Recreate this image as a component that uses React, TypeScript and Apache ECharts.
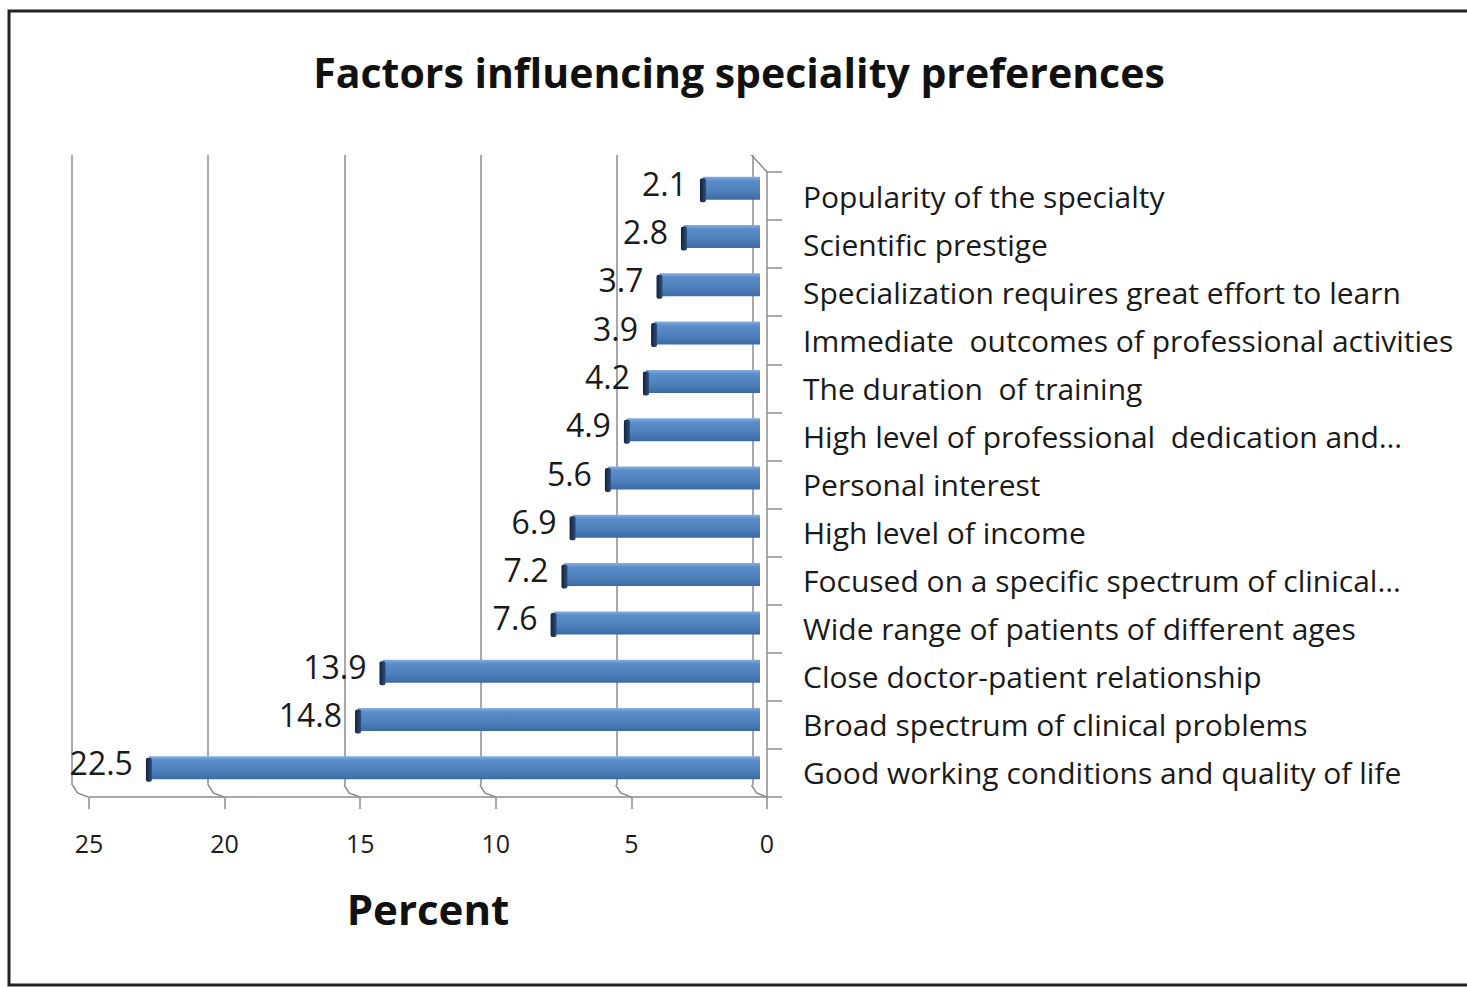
import React, { useEffect, useRef } from "react";
import * as echarts from "echarts";

const categories = [
  "Popularity of the specialty",
  "Scientific prestige",
  "Specialization requires great effort to learn",
  "Immediate  outcomes of professional activities",
  "The duration  of training",
  "High level of professional  dedication and…",
  "Personal interest",
  "High level of income",
  "Focused on a specific spectrum of clinical…",
  "Wide range of patients of different ages",
  "Close doctor-patient relationship",
  "Broad spectrum of clinical problems",
  "Good working conditions and quality of life",
];
const values = [2.1, 2.8, 3.7, 3.9, 4.2, 4.9, 5.6, 6.9, 7.2, 7.6, 13.9, 14.8, 22.5];
const tickValues = [0, 5, 10, 15, 20, 25];

const FONT = "'Open Sans', 'Noto Sans', sans-serif";
const GRID_COLOR = "#8c8c8c";

export default function App() {
  const ref = useRef<HTMLDivElement>(null);
  useEffect(() => {
    if (!ref.current) return;
    const chart = echarts.init(ref.current, undefined, { renderer: "svg" });
    const valueAxisBase = {
      type: "value" as const,
      inverse: true,
      min: 0,
      max: 25,
      interval: 5,
    };
    const option: any = {
      animation: false,
      backgroundColor: "#ffffff",
      textStyle: { fontFamily: FONT },
      grid: [
        { left: 72, right: 714, top: 155, bottom: 202 },
        { left: 81, right: 707, top: 164, bottom: 195 },
        { left: 89, right: 700, top: 172, bottom: 190 },
      ],
      xAxis: [
        {
          ...valueAxisBase,
          gridIndex: 0,
          axisLine: { show: false },
          axisTick: { show: false },
          axisLabel: { show: false },
          splitLine: { show: true, lineStyle: { color: GRID_COLOR, width: 1.5 } },
        },
        {
          ...valueAxisBase,
          gridIndex: 1,
          show: false,
          splitLine: { show: false },
        },
        {
          ...valueAxisBase,
          gridIndex: 2,
          axisLine: { show: true, lineStyle: { color: GRID_COLOR, width: 1.5 } },
          axisTick: { show: true, length: 12, lineStyle: { color: GRID_COLOR, width: 1.5 } },
          axisLabel: { show: true, margin: 33, fontSize: 25, color: "#1a1a1a", fontFamily: FONT },
          splitLine: { show: false },
          name: "Percent",
          nameLocation: "middle",
          nameGap: 90,
          nameTextStyle: { fontSize: 42, fontWeight: "bold", color: "#111", fontFamily: FONT },
        },
      ],
      yAxis: [
        { type: "category", gridIndex: 0, data: categories, inverse: true, show: false },
        { type: "category", gridIndex: 1, data: categories, inverse: true, show: false },
        {
          type: "category",
          gridIndex: 2,
          data: categories,
          inverse: true,
          position: "right",
          axisLine: { show: true, lineStyle: { color: GRID_COLOR, width: 1.5 } },
          axisTick: { show: true, length: 15, interval: 0, lineStyle: { color: GRID_COLOR, width: 1.5 } },
          axisLabel: { show: true, interval: 0, margin: 36, fontSize: 30, color: "#1a1a1a", fontFamily: FONT },
        },
      ],
      series: [
        {
          type: "custom",
          name: "depth",
          xAxisIndex: 1,
          yAxisIndex: 1,
          z: 1,
          silent: true,
          data: tickValues.map((v) => [v]),
          renderItem: (params: any, api: any) => {
            const v = api.value(0);
            const cs = params.coordSys;
            const xm = api.coord([v, 0])[0];
            const bottom = cs.y + cs.height;
            const xb = xm - 8.5;
            const xf = xm + 7;
            const children: any[] = [
              {
                type: "polyline",
                shape: {
                  points: [
                    [xb, bottom - 7],
                    [xb + 5, bottom + 1],
                    [xf, bottom + 5],
                  ],
                },
                style: { stroke: GRID_COLOR, lineWidth: 1.5, fill: null },
              },
            ];
            if (v === 0) {
              children.push({
                type: "line",
                shape: { x1: xb, y1: cs.y - 9, x2: xf, y2: cs.y + 8 },
                style: { stroke: GRID_COLOR, lineWidth: 1.5 },
              });
            }
            return { type: "group", children };
          },
        },
        {
          type: "bar",
          name: "Percent",
          xAxisIndex: 1,
          yAxisIndex: 1,
          data: values,
          barWidth: 23,
          z: 3,
          itemStyle: {
            color: new echarts.graphic.LinearGradient(0, 0, 0, 1, [
              { offset: 0, color: "#86aee0" },
              { offset: 0.18, color: "#5b8cca" },
              { offset: 0.6, color: "#4f81bd" },
              { offset: 1, color: "#3c6aa3" },
            ]),
          },
          label: {
            show: true,
            position: "left",
            distance: 16,
            offset: [0, -5],
            fontSize: 32,
            color: "#1a1a1a",
            fontFamily: FONT,
          },
        },
        {
          type: "custom",
          name: "caps",
          xAxisIndex: 1,
          yAxisIndex: 1,
          z: 4,
          silent: true,
          data: values.map((v, i) => [v, i]),
          renderItem: (params: any, api: any) => {
            const p = api.coord([api.value(0), api.value(1)]);
            return {
              type: "rect",
              shape: { x: p[0] - 3, y: p[1] - 10, width: 6, height: 24, r: 2 },
              style: {
                fill: new echarts.graphic.LinearGradient(0, 0, 1, 0, [
                  { offset: 0, color: "#13233d" },
                  { offset: 1, color: "#2e4d7a" },
                ]),
              },
            };
          },
        },
      ],
      graphic: [
        {
          type: "rect",
          shape: { x: 9, y: 11, width: 1475, height: 974 },
          style: { fill: null, stroke: "#222", lineWidth: 3 },
          z: 100,
          silent: true,
        },
        {
          type: "text",
          x: 739,
          y: 72,
          style: {
            text: "Factors influencing speciality preferences",
            fontSize: 41,
            fontWeight: "bold",
            fontFamily: FONT,
            fill: "#111",
            align: "center",
            verticalAlign: "middle",
          },
        },
      ],
    };
    chart.setOption(option);
    return () => chart.dispose();
  }, []);
  return (
    <div
      ref={ref}
      style={{ position: "fixed", left: 0, top: 0, width: 1467, height: 987 }}
    />
  );
}
